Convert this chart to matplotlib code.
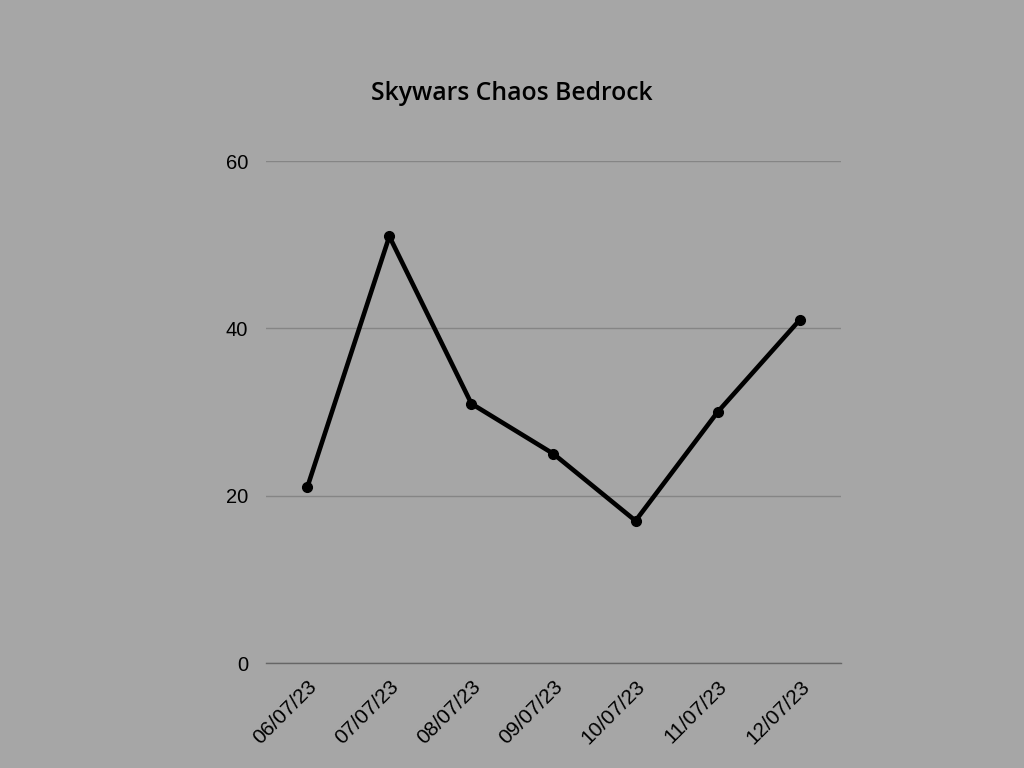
import matplotlib
matplotlib.use('Agg')
import matplotlib.pyplot as plt

dates = ['06/07/23', '07/07/23', '08/07/23', '09/07/23', '10/07/23', '11/07/23', '12/07/23']
values = [21, 51, 31, 25, 17, 30, 41]
yticks = [0, 20, 40, 60]

bg = '#a6a6a6'

fig = plt.figure(figsize=(10.24, 7.68), dpi=100, facecolor=bg)
ax = fig.add_axes([0.26, 0.1367, 0.561, 0.6536], facecolor=bg)

x = list(range(len(dates)))
ax.plot(x, values, color='black', linewidth=3.3, marker='o', markersize=7, zorder=3)

ax.set_xlim(-0.5, len(dates) - 0.5)
ax.set_ylim(0, 60)
ax.set_yticks(yticks)
ax.set_xticks(x)
ax.set_xticklabels(dates, rotation=45, ha='right', rotation_mode='anchor',
                   fontsize=15, family='Liberation Sans')
ax.set_yticklabels([str(v) for v in yticks], fontsize=14.5, family='Liberation Sans')
ax.tick_params(axis='both', length=0, colors='black')
ax.tick_params(axis='y', pad=13)
ax.tick_params(axis='x', pad=10)

ax.grid(axis='y', color='#858585', linewidth=1)
ax.set_axisbelow(True)
for s in ['top', 'right', 'left']:
    ax.spines[s].set_visible(False)
ax.spines['bottom'].set_color('#666666')
ax.spines['bottom'].set_linewidth(1)

fig.text(0.5, 1 - 94 / 768, 'Skywars Chaos Bedrock', ha='center', va='center',
         fontsize=17.8, family='Open Sans', fontweight='semibold')

fig.savefig('out.png', dpi=100, facecolor=bg)
